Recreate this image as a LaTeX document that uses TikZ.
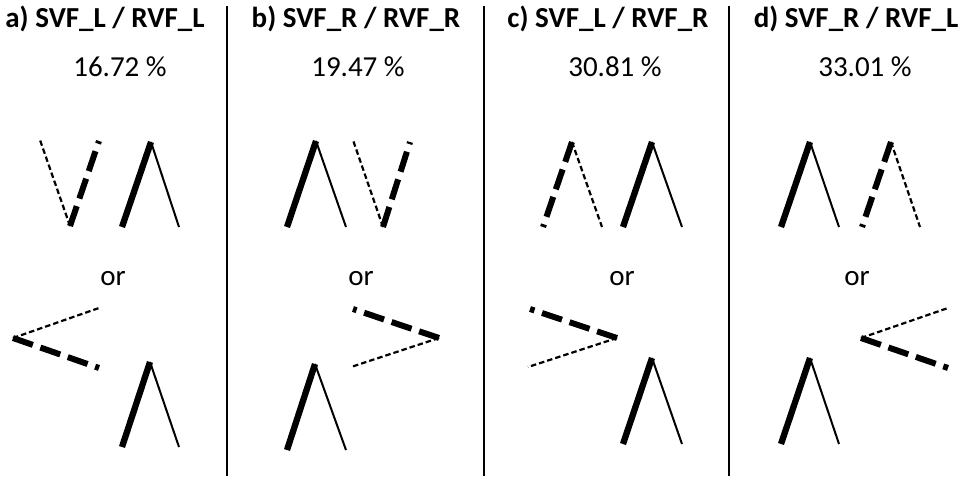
\documentclass[tikz,border=0pt]{standalone}
\usepackage{fontspec}
\setmainfont{Carlito}
\usepackage{tikz}

\begin{document}
\begin{tikzpicture}[x=1pt, y=-1pt,
		every node/.style={inner sep=0pt, anchor=base, font=\fontsize{29}{34}\selectfont},
		thickline/.style={line width=6.3pt, color=black},
		thinline/.style={line width=2pt, color=black},
		thickdash/.style={line width=6pt, color=black, dash pattern=on 21pt off 8pt},
		thindash/.style={line width=2.2pt, color=black, dash pattern=on 5.5pt off 3pt},
		sepline/.style={line width=1.8pt, color=black}]
				\useasboundingbox (0,0) rectangle (962,478);
				% separators
				\coordinate (s1t) at (227, 6);   \coordinate (s1b) at (227, 476);
				\coordinate (s2t) at (484, 6);   \coordinate (s2b) at (484, 476);
				\coordinate (s3t) at (729, 6);   \coordinate (s3b) at (729, 476);
				\draw [sepline] (s1t) to (s1b);
				\draw [sepline] (s2t) to (s2b);
				\draw [sepline] (s3t) to (s3b);
				% headers
				\node (ta) at (105, 28) {\textbf{a) SVF\_L / RVF\_L}};
				\node (tb) at (356, 28) {\textbf{b) SVF\_R / RVF\_R}};
				\node (tc) at (608, 28) {\textbf{c) SVF\_L / RVF\_R}};
				\node (td) at (856, 28) {\textbf{d) SVF\_R / RVF\_L}};
				\node (pa) at (120, 77) {16.72 \%};
				\node (pb) at (358, 77) {19.47 \%};
				\node (pc) at (615, 77) {30.81 \%};
				\node (pd) at (865, 77) {33.01 \%};
				\node (oa) at (113, 286) {or};
				\node (ob) at (361, 286) {or};
				\node (oc) at (622, 286) {or};
				\node (od) at (857, 286) {or};
				% a) top
				\coordinate (a1v) at (70, 226);  \coordinate (a1l) at (40, 140);  \coordinate (a1r) at (99, 141);
				\draw [thindash] (a1v) to (a1l);
				\draw [thickdash] (a1v) to (a1r);
				\coordinate (a2t) at (151, 142); \coordinate (a2l) at (122, 227); \coordinate (a2r) at (179, 227);
				\draw [thickline] (a2t) to (a2l);
				\draw [thinline] (a2t) to (a2r);
				% a) bottom
				\coordinate (a3v) at (13, 338);  \coordinate (a3u) at (99, 308);  \coordinate (a3d) at (99, 368);
				\draw [thindash] (a3v) to (a3u);
				\draw [thickdash] (a3v) to (a3d);
				\coordinate (a4t) at (150, 362); \coordinate (a4l) at (122, 447); \coordinate (a4r) at (179, 447);
				\draw [thickline] (a4t) to (a4l);
				\draw [thinline] (a4t) to (a4r);
				% b) top
				\coordinate (b1t) at (316, 141); \coordinate (b1l) at (287, 227); \coordinate (b1r) at (346, 227);
				\draw [thickline] (b1t) to (b1l);
				\draw [thinline] (b1t) to (b1r);
				\coordinate (b2v) at (383, 227); \coordinate (b2l) at (353, 140); \coordinate (b2r) at (410, 142);
				\draw [thindash] (b2v) to (b2l);
				\draw [thickdash] (b2v) to (b2r);
				% b) bottom
				\coordinate (b3v) at (439, 338); \coordinate (b3u) at (353, 309); \coordinate (b3d) at (351, 367);
				\draw [thickdash] (b3v) to (b3u);
				\draw [thindash] (b3v) to (b3d);
				\coordinate (b4t) at (315, 364); \coordinate (b4l) at (287, 450); \coordinate (b4r) at (346, 450);
				\draw [thickline] (b4t) to (b4l);
				\draw [thinline] (b4t) to (b4r);
				% c) top
				\coordinate (c1t) at (572, 142); \coordinate (c1l) at (543, 227); \coordinate (c1r) at (602, 227);
				\draw [thickdash] (c1t) to (c1l);
				\draw [thindash] (c1t) to (c1r);
				\coordinate (c2t) at (652, 142); \coordinate (c2l) at (623, 227); \coordinate (c2r) at (682, 227);
				\draw [thickline] (c2t) to (c2l);
				\draw [thinline] (c2t) to (c2r);
				% c) bottom
				\coordinate (c3v) at (617, 338); \coordinate (c3u) at (530, 309); \coordinate (c3d) at (528, 367);
				\draw [thickdash] (c3v) to (c3u);
				\draw [thindash] (c3v) to (c3d);
				\coordinate (c4t) at (652, 358); \coordinate (c4l) at (623, 444); \coordinate (c4r) at (682, 444);
				\draw [thickline] (c4t) to (c4l);
				\draw [thinline] (c4t) to (c4r);
				% d) top
				\coordinate (d1t) at (810, 142); \coordinate (d1l) at (781, 227); \coordinate (d1r) at (839, 227);
				\draw [thickline] (d1t) to (d1l);
				\draw [thinline] (d1t) to (d1r);
				\coordinate (d2t) at (891, 142); \coordinate (d2l) at (862, 227); \coordinate (d2r) at (920, 227);
				\draw [thickdash] (d2t) to (d2l);
				\draw [thindash] (d2t) to (d2r);
				% d) bottom
				\coordinate (d3v) at (861, 338); \coordinate (d3u) at (948, 308); \coordinate (d3d) at (948, 368);
				\draw [thindash] (d3v) to (d3u);
				\draw [thickdash] (d3v) to (d3d);
				\coordinate (d4t) at (810, 358); \coordinate (d4l) at (781, 444); \coordinate (d4r) at (839, 444);
				\draw [thickline] (d4t) to (d4l);
				\draw [thinline] (d4t) to (d4r);
			\end{tikzpicture}
\end{document}
